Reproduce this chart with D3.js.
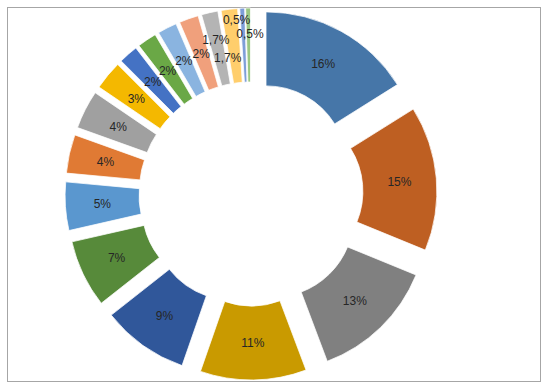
<!DOCTYPE html>
<html>
<head>
<meta charset="utf-8">
<script src="https://cdn.jsdelivr.net/npm/d3@7"></script>
<style>
  body { margin: 0; background: #fff; }
</style>
</head>
<body>
<div id="chart"></div>
<script>
// slice values (percent), clockwise from 12 o'clock
const values = [16, 15, 13, 11, 9, 7, 5, 4, 4, 3, 2, 2, 2, 2, 1.7, 1.7, 0.5, 0.5];
const colors = ["#4676A8", "#BE5F22", "#808080", "#C99A00", "#30579A", "#578A3A",
    "#5A97CF", "#E07A34", "#A0A0A0", "#F4B800", "#4472C4", "#6AA846",
    "#8AB4E0", "#F0A07C", "#B4B4B4", "#FFCE6C", "#7E9ED8", "#9AC783"];

const width = 548, height = 389;
const cx = 251, cy = 194;
const outerR = 155, innerR = 81, explode = 31;

// Excel moved a few overlapping labels: [radial px, angle deg]
const labelNudge = { 14: [9, 0], 15: [-11, -3], 16: [26, -2], 17: [11, 0.5] };

const svg = d3.select("#chart")
    .append("svg")
    .attr("width", width)
    .attr("height", height);

// chart frame
svg.append("rect")
    .attr("x", 7.5).attr("y", 7.5)
    .attr("width", 533).attr("height", 374)
    .attr("fill", "none")
    .attr("stroke", "#A6A6A6")
    .attr("stroke-width", 1);

const pie = d3.pie().sort(null).value(d => d);
const arcs = pie(values);

const arc = d3.arc().innerRadius(innerR).outerRadius(outerR);

const g = svg.append("g")
    .attr("transform", "translate(" + cx + "," + cy + ")");

const mid = d => (d.startAngle + d.endAngle) / 2;

g.selectAll("path.slice")
    .data(arcs)
    .enter()
    .append("path")
    .attr("class", "slice")
    .attr("d", arc)
    .attr("transform", d => "translate(" + (Math.sin(mid(d)) * explode) + "," + (-Math.cos(mid(d)) * explode) + ")")
    .attr("fill", (d, i) => colors[i])
    .attr("stroke", "#fff")
    .attr("stroke-width", 0.75);

function labelPos(d, i) {
    const n = labelNudge[i] || [0, 0];
    const a = mid(d) + n[1] * Math.PI / 180;
    const rr = (innerR + outerR) / 2 + explode + n[0];
    return [Math.sin(a) * rr, -Math.cos(a) * rr];
}

g.selectAll("text.label")
    .data(arcs)
    .enter()
    .append("text")
    .attr("class", "label")
    .attr("x", (d, i) => labelPos(d, i)[0])
    .attr("y", (d, i) => labelPos(d, i)[1])
    .attr("dy", "0.35em")
    .attr("text-anchor", "middle")
    .style("font-family", "'Liberation Sans', Arial, sans-serif")
    .style("font-size", "12px")
    .style("fill", "#262626")
    .text(d => String(d.data).replace(".", ",") + "%");
</script>
</body>
</html>
